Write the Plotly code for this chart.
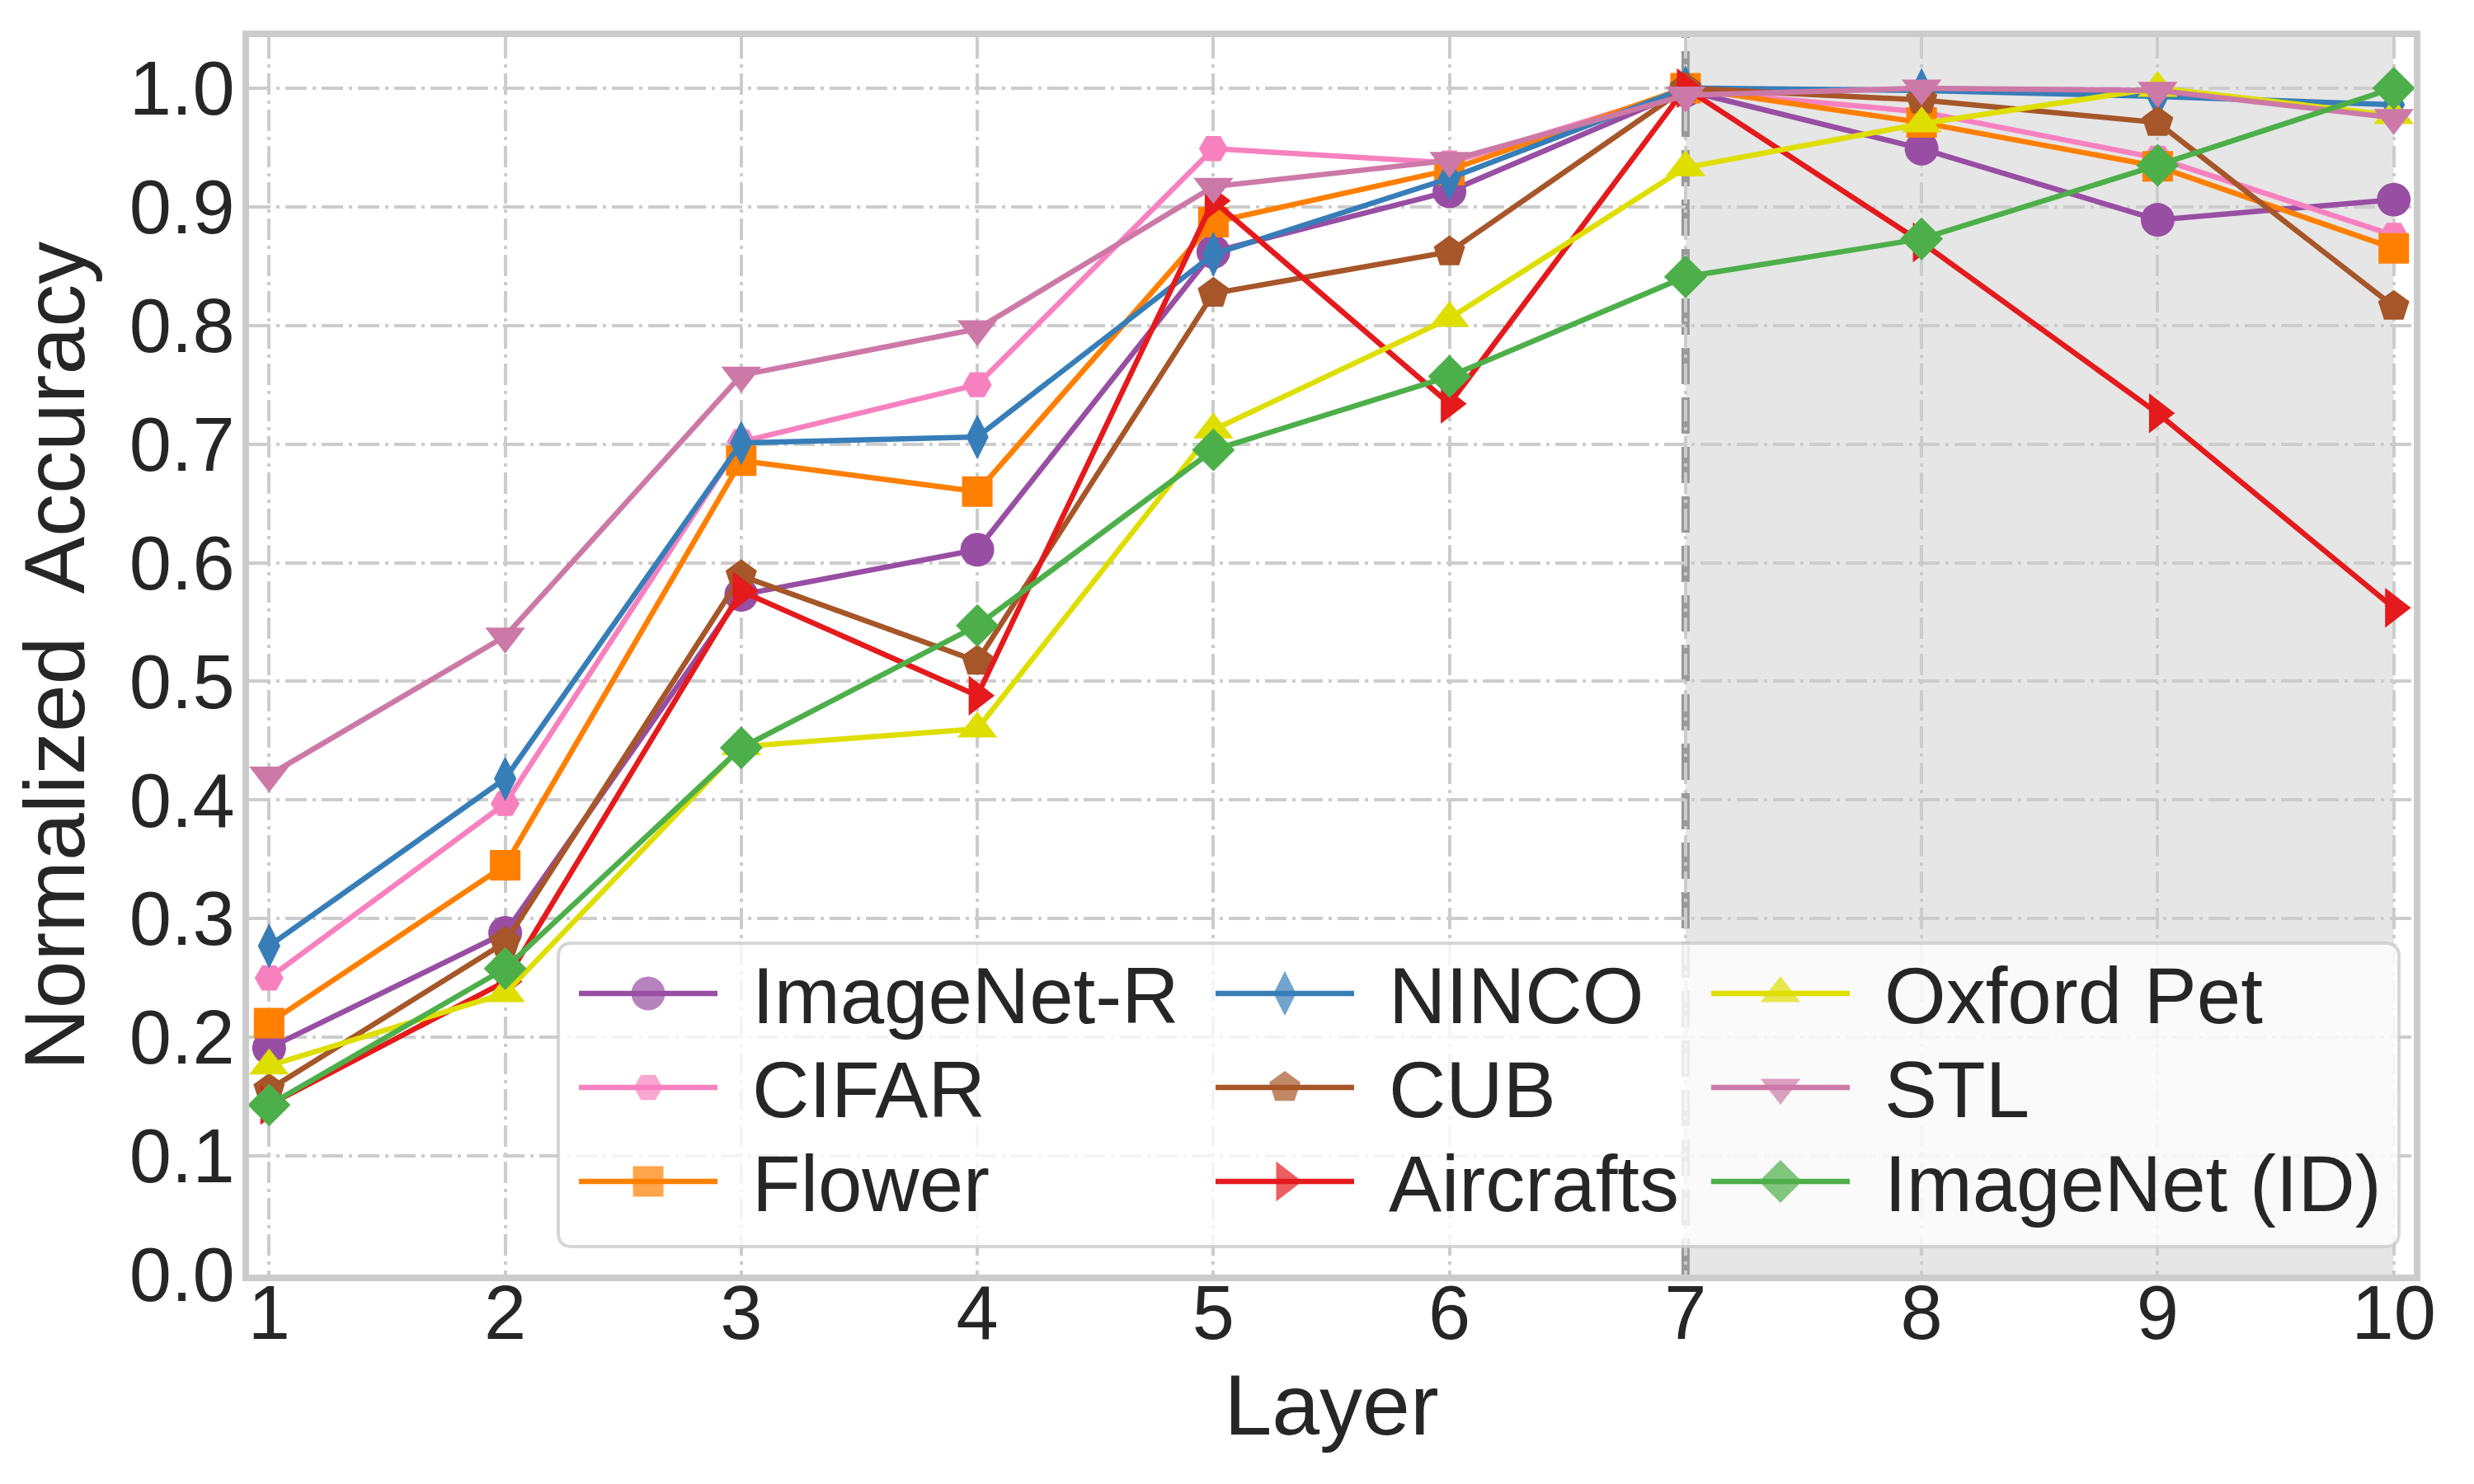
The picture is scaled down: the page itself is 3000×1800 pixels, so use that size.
import numpy as np
import plotly.graph_objects as go

# ---- data ----
layers = [1, 2, 3, 4, 5, 6, 7, 8, 9, 10]

names = ["ImageNet-R", "CIFAR", "Flower", "NINCO", "CUB",
         "Aircrafts", "Oxford Pet", "STL", "ImageNet (ID)"]

imagenet_r = [0.191, 0.288, 0.573, 0.611, 0.862, 0.913, 0.998, 0.949, 0.889, 0.906]
cifar = [0.250, 0.397, 0.702, 0.750, 0.949, 0.937, 0.998, 0.980, 0.941, 0.876]
flower = [0.212, 0.345, 0.686, 0.660, 0.887, 0.931, 1.000, 0.971, 0.934, 0.865]
ninco = [0.277, 0.418, 0.701, 0.706, 0.860, 0.924, 1.000, 0.998, 0.993, 0.986]
cub = [0.156, 0.280, 0.589, 0.517, 0.827, 0.862, 1.000, 0.990, 0.971, 0.816]
aircrafts = [0.143, 0.247, 0.576, 0.488, 0.905, 0.734, 1.000, 0.870, 0.726, 0.562]
oxford_pet = [0.176, 0.237, 0.445, 0.460, 0.712, 0.806, 0.933, 0.970, 1.000, 0.977]
stl = [0.421, 0.538, 0.758, 0.797, 0.917, 0.939, 0.994, 1.000, 0.998, 0.975]
imagenet_id = [0.143, 0.258, 0.444, 0.547, 0.695, 0.757, 0.841, 0.873, 0.935, 1.000]

series = [imagenet_r, cifar, flower, ninco, cub, aircrafts, oxford_pet, stl, imagenet_id]

y_ticks = [0.0, 0.1, 0.2, 0.3, 0.4, 0.5, 0.6, 0.7, 0.8, 0.9, 1.0]
split_layer = 7

# ---- styles ----
colors = ["#984ea3", "#f781bf", "#ff7f00", "#377eb8", "#a65628",
          "#e41a1c", "#dede00", "#cc79a7", "#4daf4a"]
symbols = ["circle", "hexagon2", "square", "diamond-tall", "pentagon",
           "triangle-right", "triangle-up", "triangle-down", "diamond"]
sizes = [41, 35, 37, 39, 40, 42, 42, 42, 40]
LW = 6.5

FONT = "Liberation Sans, Arial, sans-serif"
TXT = "#262626"
PAGE_OFF = 8                      # default body margin of the html page
FW, FH = 3000 - 2 * PAGE_OFF, 1800 - 2 * PAGE_OFF
L, R, T, B = 302, 2927, 45, 1546  # plot area edges, page px

fig = go.Figure()

for name, ys, c, sym, sz in zip(names, series, colors, symbols, sizes):
    fig.add_trace(go.Scatter(
        x=layers, y=ys, name=name, mode="lines+markers",
        line=dict(color=c, width=LW),
        marker=dict(symbol=sym, size=sz, color=c, line=dict(width=0)),
        showlegend=False,
    ))

# ---- hand-built legend on an overlay axis measured in page pixels ----
box_x0, box_x1, box_y0, box_y1, rad = 677, 2909, 1144, 1512, 14
t = np.linspace(0, np.pi / 2, 12)
bx, by = [], []
for cx, cy, a0 in [(box_x1 - rad, box_y0 + rad, -np.pi / 2), (box_x1 - rad, box_y1 - rad, 0),
                   (box_x0 + rad, box_y1 - rad, np.pi / 2), (box_x0 + rad, box_y0 + rad, np.pi)]:
    bx += list(cx + rad * np.cos(a0 + t))
    by += list(cy + rad * np.sin(a0 + t))
bx.append(bx[0])
by.append(by[0])
fig.add_trace(go.Scatter(
    x=bx, y=by, xaxis="x2", yaxis="y2", mode="lines", fill="toself",
    fillcolor="rgba(255,255,255,0.8)", line=dict(color="rgba(204,204,204,0.8)", width=4),
    showlegend=False, hoverinfo="skip",
))

col_x = [702, 1474, 2075]
row_y = [1205, 1319, 1433]
handle_len = 168
text_gap = 208
for i, (name, c, sym, sz) in enumerate(zip(names, colors, symbols, sizes)):
    x0 = col_x[i // 3]
    y0 = row_y[i % 3]
    fig.add_trace(go.Scatter(
        x=[x0, x0 + handle_len / 2, x0 + handle_len], y=[y0, y0, y0],
        xaxis="x2", yaxis="y2", mode="lines+markers",
        line=dict(color=c, width=LW),
        marker=dict(symbol=sym, size=[0, sz, 0], color=c, line=dict(width=0)),
        showlegend=False, hoverinfo="skip",
    ))
    fig.add_annotation(
        x=x0 + text_gap, y=y0 + 2, xref="x2", yref="y2", text=name, showarrow=False,
        xanchor="left", yanchor="middle", font=dict(family=FONT, size=96, color=TXT),
    )

# shaded region + separator
fig.add_shape(type="rect", x0=split_layer, x1=layers[-1], y0=0, y1=1, xref="x", yref="paper",
              fillcolor="rgba(128,128,128,0.2)", line=dict(width=0), layer="between")
fig.add_shape(type="line", x0=split_layer, x1=split_layer, y0=0, y1=1, xref="x", yref="paper",
              line=dict(color="#999999", width=10, dash="44px,16px"), layer="between")

axis_common = dict(
    showgrid=True, gridcolor="#cccccc", gridwidth=3.5, griddash="26px,7px,4px,7px",
    showline=True, mirror=True, linecolor="#cccccc", linewidth=8,
    zeroline=False, ticks="",
    tickfont=dict(family=FONT, size=92, color=TXT),
)

fig.update_layout(
    width=FW, height=FH,
    margin=dict(l=L - PAGE_OFF, r=PAGE_OFF + FW - R, t=T - PAGE_OFF, b=PAGE_OFF + FH - B,
                autoexpand=False),
    paper_bgcolor="white", plot_bgcolor="white",
    font=dict(family=FONT, color=TXT),
    xaxis=dict(range=[0.915, 10.085], tickvals=layers, ticktext=[str(v) for v in layers],
               title=dict(text="Layer", font=dict(family=FONT, size=104, color=TXT), standoff=28),
               ticklabelstandoff=-40, **axis_common),
    yaxis=dict(range=[0, 1.043], tickvals=y_ticks, ticktext=[f"{v:.1f}" for v in y_ticks],
               title=dict(text="Normalized\u00a0 Accuracy", font=dict(family=FONT, size=104, color=TXT),
                          standoff=26),
               ticklabelstandoff=-9, **axis_common),
    xaxis2=dict(overlaying="x", anchor="y2", range=[L, R], visible=False, fixedrange=True),
    yaxis2=dict(overlaying="y", anchor="x2", range=[B, T], visible=False, fixedrange=True),
    showlegend=False,
)

fig.write_html("out.html")
